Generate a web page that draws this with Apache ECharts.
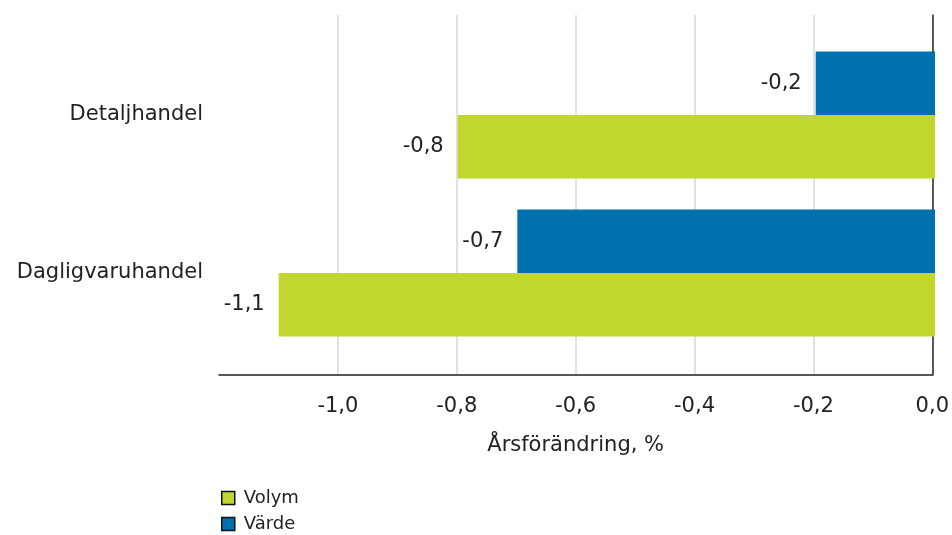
<!DOCTYPE html>
<html>
<head>
<meta charset="utf-8">
<script src="https://cdn.jsdelivr.net/npm/echarts@6/dist/echarts.min.js"></script>
<style>
html,body{margin:0;padding:0;background:#fff;}
#c{width:952px;height:535px;}
</style>
</head>
<body>
<div id="c"></div>
<script>
var categories = ['Detaljhandel', 'Dagligvaruhandel'];
var vardeValues = [-0.2, -0.7];
var volymValues = [-0.8, -1.1];
var legendNames = ['Volym', 'Värde'];
var axisTitle = 'Årsförändring, %';

var FONT = 'DejaVu Sans';
var TXT = '#222';
function fmt(v){ return Number(v).toFixed(1).replace('.', ',').replace('-0,0','0,0'); }

function legendFor(name, top){
  return {
    data: [name],
    orient: 'vertical',
    left: 221,
    top: top,
    padding: 0,
    itemWidth: 13,
    itemHeight: 13,
    icon: 'rect',
    itemStyle: { borderColor: '#111', borderWidth: 1.5 },
    textStyle: { fontFamily: FONT, fontSize: 18, color: TXT, padding: [0,0,0,4] }
  };
}

var chart = echarts.init(document.getElementById('c'));
chart.setOption({
  backgroundColor: '#fff',
  animation: false,
  textStyle: { fontFamily: FONT },
  grid: [
    { left: 219, right: 17, top: 15, bottom: 160 },
    { left: 219, right: 17, top: 36, bottom: 183 }
  ],
  legend: [legendFor(legendNames[0], 489), legendFor(legendNames[1], 515)],
  xAxis: [
    {
      gridIndex: 0, type: 'value', min: -1.2, max: 0, interval: 0.2,
      name: axisTitle, nameLocation: 'middle', nameGap: 60,
      nameTextStyle: { fontFamily: FONT, fontSize: 21, color: TXT },
      axisLine: { show: true, onZero: false, lineStyle: { color: '#222', width: 1.5 } },
      axisTick: { show: false },
      axisLabel: { showMinLabel: false, margin: 21, fontFamily: FONT, fontSize: 21, color: TXT, formatter: fmt },
      splitLine: { show: true, showMinLine: false, showMaxLine: false, lineStyle: { color: '#d9d9d9', width: 1.5 } }
    },
    {
      gridIndex: 1, type: 'value', min: -1.2, max: 0, interval: 0.2, show: false,
      splitLine: { show: false }
    }
  ],
  yAxis: [
    {
      gridIndex: 0, type: 'category', data: categories, position: 'right',
      axisLine: { show: true, onZero: false, lineStyle: { color: '#222', width: 1.5 } },
      axisTick: { show: false }, axisLabel: { show: false }, splitLine: { show: false }
    },
    {
      gridIndex: 1, type: 'category', data: categories, inverse: true, position: 'left',
      axisLine: { show: false }, axisTick: { show: false },
      axisLabel: { margin: 16, fontFamily: FONT, fontSize: 21, color: TXT },
      splitLine: { show: false }
    }
  ],
  series: [
    {
      name: 'Värde', type: 'bar', xAxisIndex: 1, yAxisIndex: 1,
      data: vardeValues, barGap: '0%', barCategoryGap: '19.6%',
      itemStyle: { color: '#0071ae' },
      label: { show: true, position: 'left', distance: 14, fontFamily: FONT, fontSize: 21, color: TXT,
        formatter: function(p){ return fmt(p.value); } }
    },
    {
      name: 'Volym', type: 'bar', xAxisIndex: 1, yAxisIndex: 1,
      data: volymValues, barGap: '0%', barCategoryGap: '19.6%',
      itemStyle: { color: '#c1d72f' },
      label: { show: true, position: 'left', distance: 14, fontFamily: FONT, fontSize: 21, color: TXT,
        formatter: function(p){ return fmt(p.value); } }
    }
  ]
});
</script>
</body>
</html>
